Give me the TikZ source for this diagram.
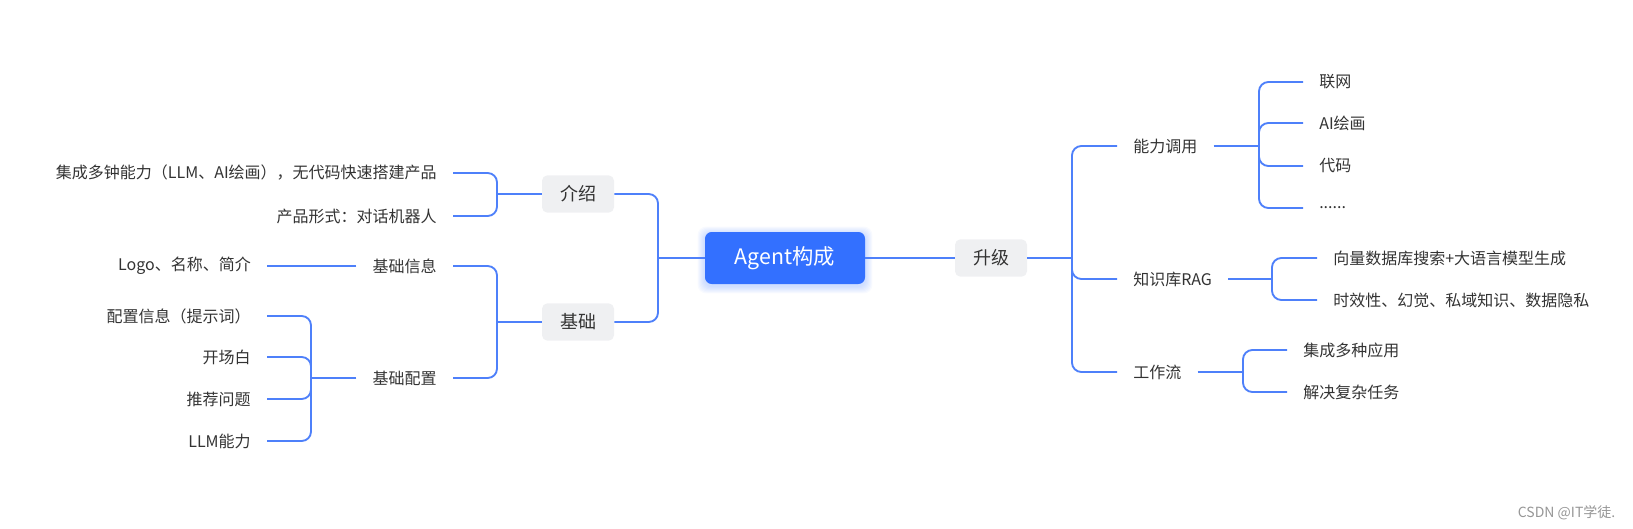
\documentclass[tikz,border=0pt]{standalone}
\usepackage{fontspec}
\setmainfont{Noto Sans CJK SC}
\usepackage{xcolor}
\usepackage{tikz}
\usetikzlibrary{positioning,calc,backgrounds}
\definecolor{linkblue}{RGB}{78,128,250}
\definecolor{rootblue}{RGB}{51,112,255}
\definecolor{boxgray}{RGB}{239,240,242}
\definecolor{txtgray}{RGB}{51,51,51}
\definecolor{markgray}{RGB}{150,150,150}

\begin{document}
\begin{tikzpicture}[
  x=0.75pt, y=-0.75pt,
  every node/.style={font=\fontsize{12}{14}\selectfont, text=txtgray},
  root/.style={fill=rootblue, rounded corners=5pt, minimum width=120pt, minimum height=39pt, inner sep=0pt,
    font=\fontsize{16}{18}\selectfont, text=white},
  topic/.style={fill=boxgray, rounded corners=4pt, minimum width=54pt, minimum height=28pt, inner sep=0pt,
    font=\fontsize{13.5}{16}\selectfont},
  leaf/.style={inner xsep=12pt, inner ysep=2pt},
  link/.style={draw=linkblue, line width=1.4pt, rounded corners=7pt},
  stem/.style={draw=linkblue, line width=2.2pt},
  wmark/.style={font=\fontsize{10.5}{12}\selectfont, text=markgray}
]
\useasboundingbox (0,0) rectangle (1633,528);

% centre and first level
\node[root] (agent) at (785,258) {Agent构成};
\node[topic] (jieshao) at (578,194) {介绍};
\node[topic] (jichu) at (578,322) {基础};
\node[topic] (shengji) at (991,258) {升级};

% left branches
\node[leaf, anchor=east] (jsA) at (453,173) {集成多钟能力（LLM、AI绘画），无代码快速搭建产品};
\node[leaf, anchor=east] (jsB) at (453,216) {产品形式：对话机器人};
\node[leaf, anchor=east] (xinxi) at (453,266) {基础信息};
\node[leaf, anchor=east] (peizhi) at (453,378) {基础配置};
\node[leaf, anchor=east] (logo) at (267,266) {Logo、名称、简介};
\node[leaf, anchor=east] (pzA) at (267,316) {配置信息（提示词）};
\node[leaf, anchor=east] (pzB) at (267,357) {开场白};
\node[leaf, anchor=east] (pzC) at (267,399) {推荐问题};
\node[leaf, anchor=east] (pzD) at (267,441) {LLM能力};

% right branches
\node[leaf, anchor=west] (nengli) at (1117,146) {能力调用};
\node[leaf, anchor=west] (zhishi) at (1117,279) {知识库RAG};
\node[leaf, anchor=west] (gongzuo) at (1117,372) {工作流};
\node[leaf, anchor=west] (nlA) at (1303,82) {联网};
\node[leaf, anchor=west] (nlB) at (1303,123) {AI绘画};
\node[leaf, anchor=west] (nlC) at (1303,166) {代码};
\node[leaf, anchor=west] (nlD) at (1303,208) {......};
\node[leaf, anchor=west] (zsA) at (1317,258) {向量数据库搜索+大语言模型生成};
\node[leaf, anchor=west] (zsB) at (1317,300) {时效性、幻觉、私域知识、数据隐私};
\node[leaf, anchor=west] (gzA) at (1287,350) {集成多种应用};
\node[leaf, anchor=west] (gzB) at (1287,392) {解决复杂任务};

\node[wmark, anchor=east] (csdn) at (1620,513) {CSDN @IT学徒.};

% junctions
\coordinate (jL) at (658,258);
\coordinate (jR) at (1072,258);
\coordinate (jJs) at (497,194);
\coordinate (jJc) at (497,322);
\coordinate (jPz) at (311,378);
\coordinate (jNl) at (1259,146);
\coordinate (jZs) at (1272,279);
\coordinate (jGz) at (1243,372);

% soft glow under the centre
\begin{scope}[on background layer]
  \foreach \i in {1,...,7}
    \fill[rootblue, opacity=0.035, rounded corners=6pt]
      ($(agent.south west)+(-\i,\i+2)$) rectangle ($(agent.north east)+(\i,-\i+2)$);
\end{scope}

\draw[stem] (agent.west) -- (jL);
\draw[link] (jL) |- (jieshao.east);
\draw[link] (jL) |- (jichu.east);
\draw[link] (agent.east) -- (shengji.west);
\draw[stem] (shengji.east) -- (jR);
\foreach \n in {nengli,zhishi,gongzuo}
  \draw[link] (jR) |- (\n.west);

\draw[stem] (jieshao.west) -- (jJs);
\foreach \n in {jsA,jsB}
  \draw[link] (jJs) |- (\n.east);
\draw[stem] (jichu.west) -- (jJc);
\foreach \n in {xinxi,peizhi}
  \draw[link] (jJc) |- (\n.east);
\draw[link] (xinxi.west) -- (logo.east);
\draw[stem] (peizhi.west) -- (jPz);
\foreach \n in {pzA,pzB,pzC,pzD}
  \draw[link] (jPz) |- (\n.east);

\draw[stem] (nengli.east) -- (jNl);
\foreach \n in {nlA,nlB,nlC,nlD}
  \draw[link] (jNl) |- (\n.west);
\draw[stem] (zhishi.east) -- (jZs);
\foreach \n in {zsA,zsB}
  \draw[link] (jZs) |- (\n.west);
\draw[stem] (gongzuo.east) -- (jGz);
\foreach \n in {gzA,gzB}
  \draw[link] (jGz) |- (\n.west);
\end{tikzpicture}
\end{document}
